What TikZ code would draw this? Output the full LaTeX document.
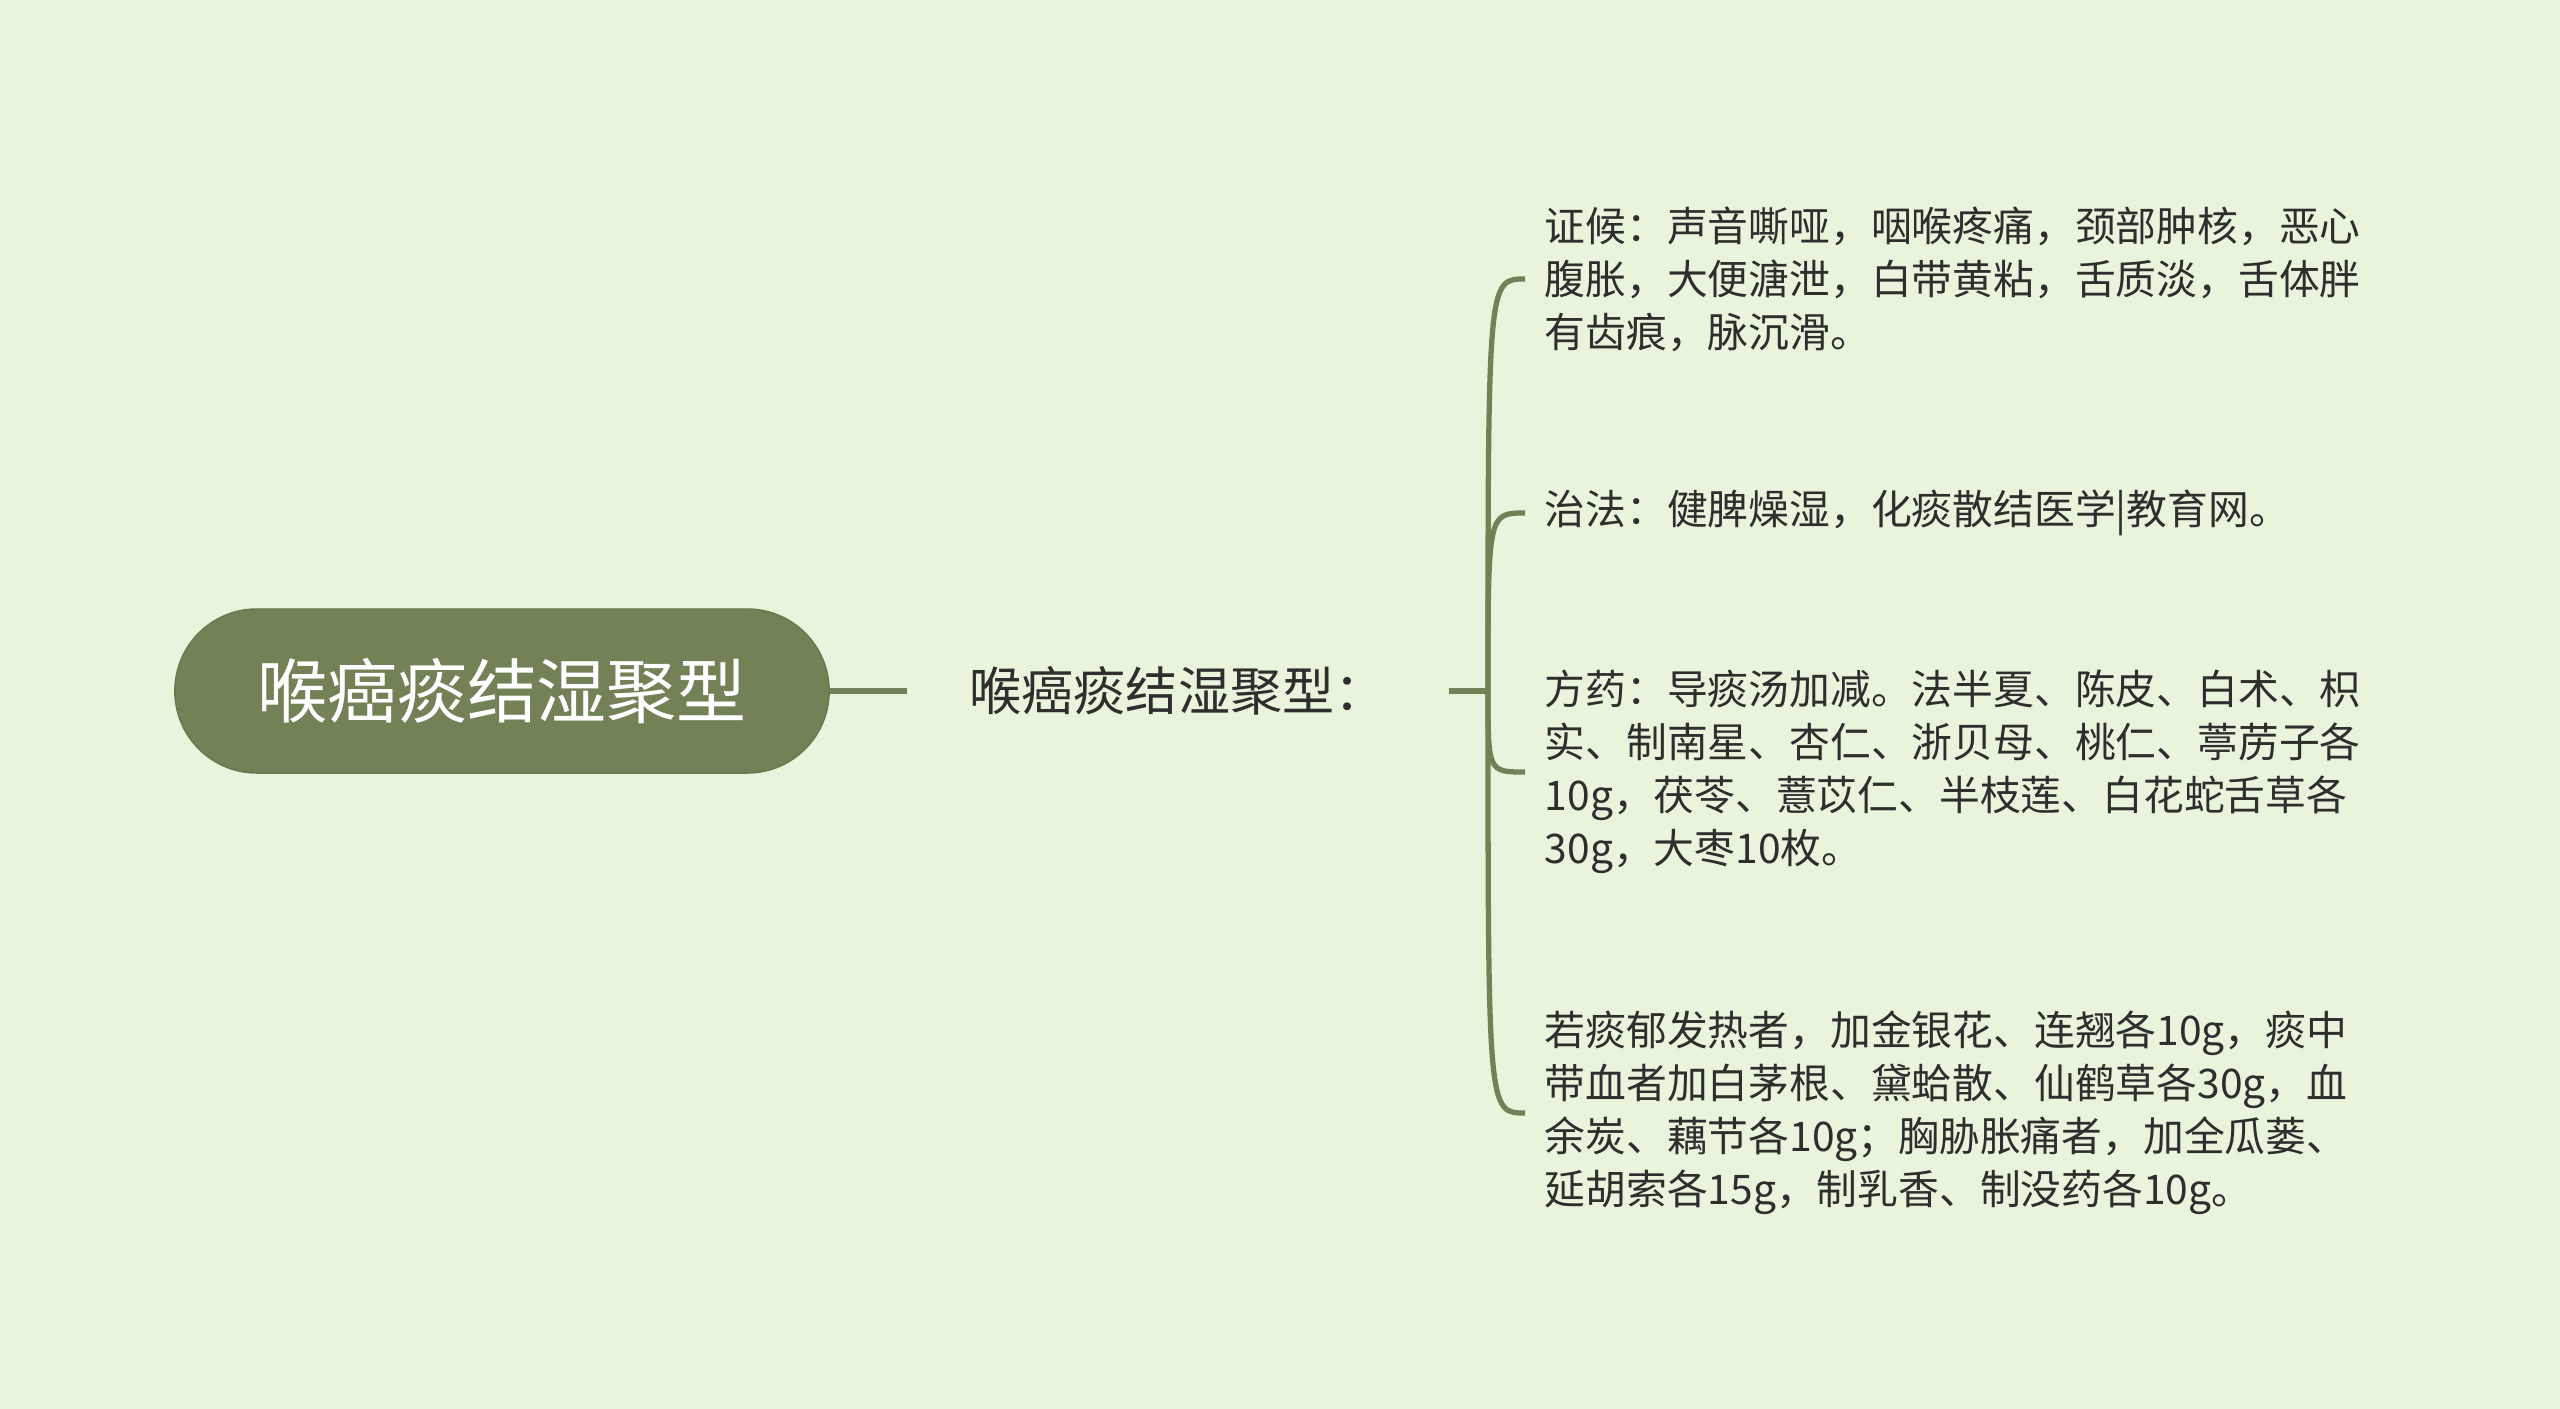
\documentclass[tikz,border=0pt]{standalone}
\usepackage{fontspec}
\newfontfamily\cjk{Noto Sans CJK SC}
\definecolor{bgcol}{HTML}{E8F5DC}
\definecolor{mapolive}{HTML}{738156}
\definecolor{inkcol}{HTML}{2E2E2E}

\begin{document}
\begin{tikzpicture}[x=0.01cm,y=-0.01cm,
    root/.style={draw=mapolive!92!black,line width=0.4pt,fill=mapolive,rounded corners=0.82cm,
        minimum width=6.54cm,minimum height=1.64cm,text=white,font=\cjk\fontsize{19.9pt}{24pt}\selectfont},
    sub/.style={inner xsep=0.62cm,inner ysep=0pt,text=inkcol,font=\cjk\fontsize{14.8pt}{18pt}\selectfont},
    leaf/.style={anchor=west,inner xsep=0.19cm,inner ysep=0pt,align=left,text=inkcol,
        font=\cjk\fontsize{11.6pt}{15.08pt}\selectfont},
    branch/.style={draw=mapolive,line width=1.5pt}]
    \fill[bgcol] (0,0) rectangle (2560,1409);
    \useasboundingbox (0,0) rectangle (2560,1409);
    \node[root] (root) at (502,691) {喉癌痰结湿聚型};
    \node[sub] (sub) at (1178,691) {喉癌痰结湿聚型：};
    \coordinate (split) at (1488,691);
    \node[leaf] (sign) at (1525,279) {证候：声音嘶哑，咽喉疼痛，颈部肿核，恶心\\腹胀，大便溏泄，白带黄粘，舌质淡，舌体胖\\有齿痕，脉沉滑。};
    \node[leaf] (rule) at (1525,513) {治法：健脾燥湿，化痰散结医学|教育网。};
    \node[leaf] (recipe) at (1525,772) {方药：导痰汤加减。法半夏、陈皮、白术、枳\\实、制南星、杏仁、浙贝母、桃仁、葶苈子各\\10g，茯苓、薏苡仁、半枝莲、白花蛇舌草各\\30g，大枣10枚。};
    \node[leaf] (extra) at (1525,1113) {若痰郁发热者，加金银花、连翘各10g，痰中\\带血者加白茅根、黛蛤散、仙鹤草各30g，血\\余炭、藕节各10g；胸胁胀痛者，加全瓜蒌、\\延胡索各15g，制乳香、制没药各10g。};
    \draw[branch] (root.east) -- (sub.west);
    \draw[branch] (sub.east) -- (split);
    \draw[branch] (split) .. controls (split |- sign.west) .. (sign.west);
    \draw[branch] (split) .. controls (split |- rule.west) .. (rule.west);
    \draw[branch] (split) .. controls (split |- recipe.west) .. (recipe.west);
    \draw[branch] (split) .. controls (split |- extra.west) .. (extra.west);
\end{tikzpicture}
\end{document}
